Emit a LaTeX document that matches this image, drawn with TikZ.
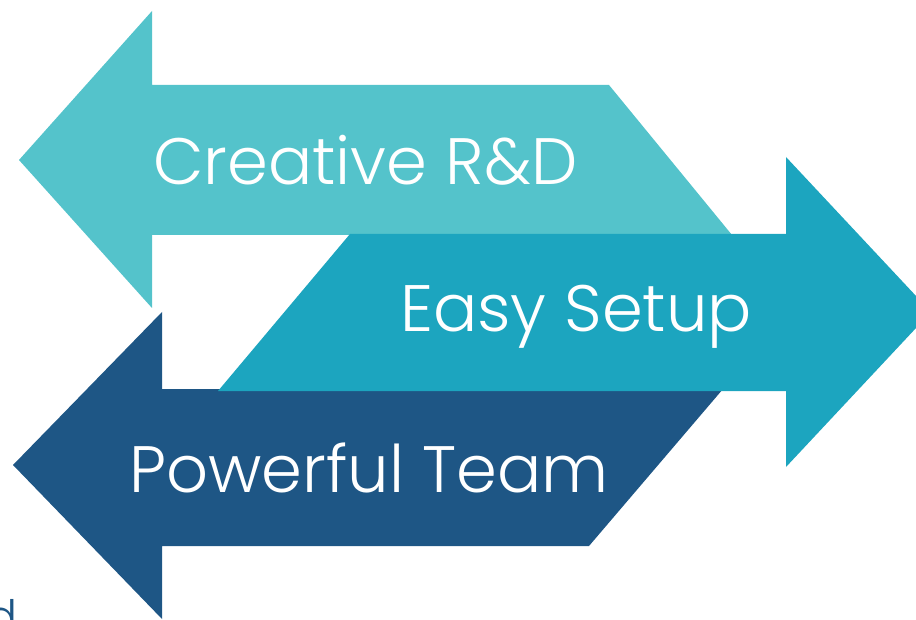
\documentclass[tikz,border=0pt]{standalone}
\usepackage{fontspec}
\setmainfont{Poppins}[UprightFont=* Light]
\definecolor{rdteal}{RGB}{84,195,203}
\definecolor{setupteal}{RGB}{28,165,191}
\definecolor{teamblue}{RGB}{30,86,133}

\begin{document}
\begin{tikzpicture}[
    x=1pt, y=-1pt,
    word/.style={
	text=white,
	font=\fontsize{65.6}{72}\selectfont,
	inner sep=0pt,
	anchor=base west
    }
]
	\useasboundingbox (0,0) rectangle (916,620);
	\clip (0,0) rectangle (916,620);

	% Creative R&D, pointing left
	\fill[rdteal] (19,160) -- (152,11) -- (152,85) -- (609,85) -- (732,235)
	    -- (152,235) -- (152,308) -- cycle;

	% Powerful Team, pointing left
	\fill[teamblue] (13,465) -- (162,312) -- (162,389) -- (723,389) -- (589,546)
	    -- (162,546) -- (162,619) -- cycle;

	% Easy Setup, pointing right
	\fill[setupteal] (350,234) -- (786,234) -- (786,157) -- (931,312) -- (786,467)
	    -- (786,391) -- (218,391) -- cycle;

	\node[word] (rd) at (153,185) {Creative R\&D};
	\node[word] (setup) at (400,332) {Easy Setup};
	\node[word] (team) at (129,492) {Powerful Team};

	% cut-off letter, lower left
	\node[text=teamblue, font=\fontsize{46}{50}\selectfont, inner sep=0pt,
	    anchor=base east] (cut) at (18,633) {d};
\end{tikzpicture}
\end{document}
